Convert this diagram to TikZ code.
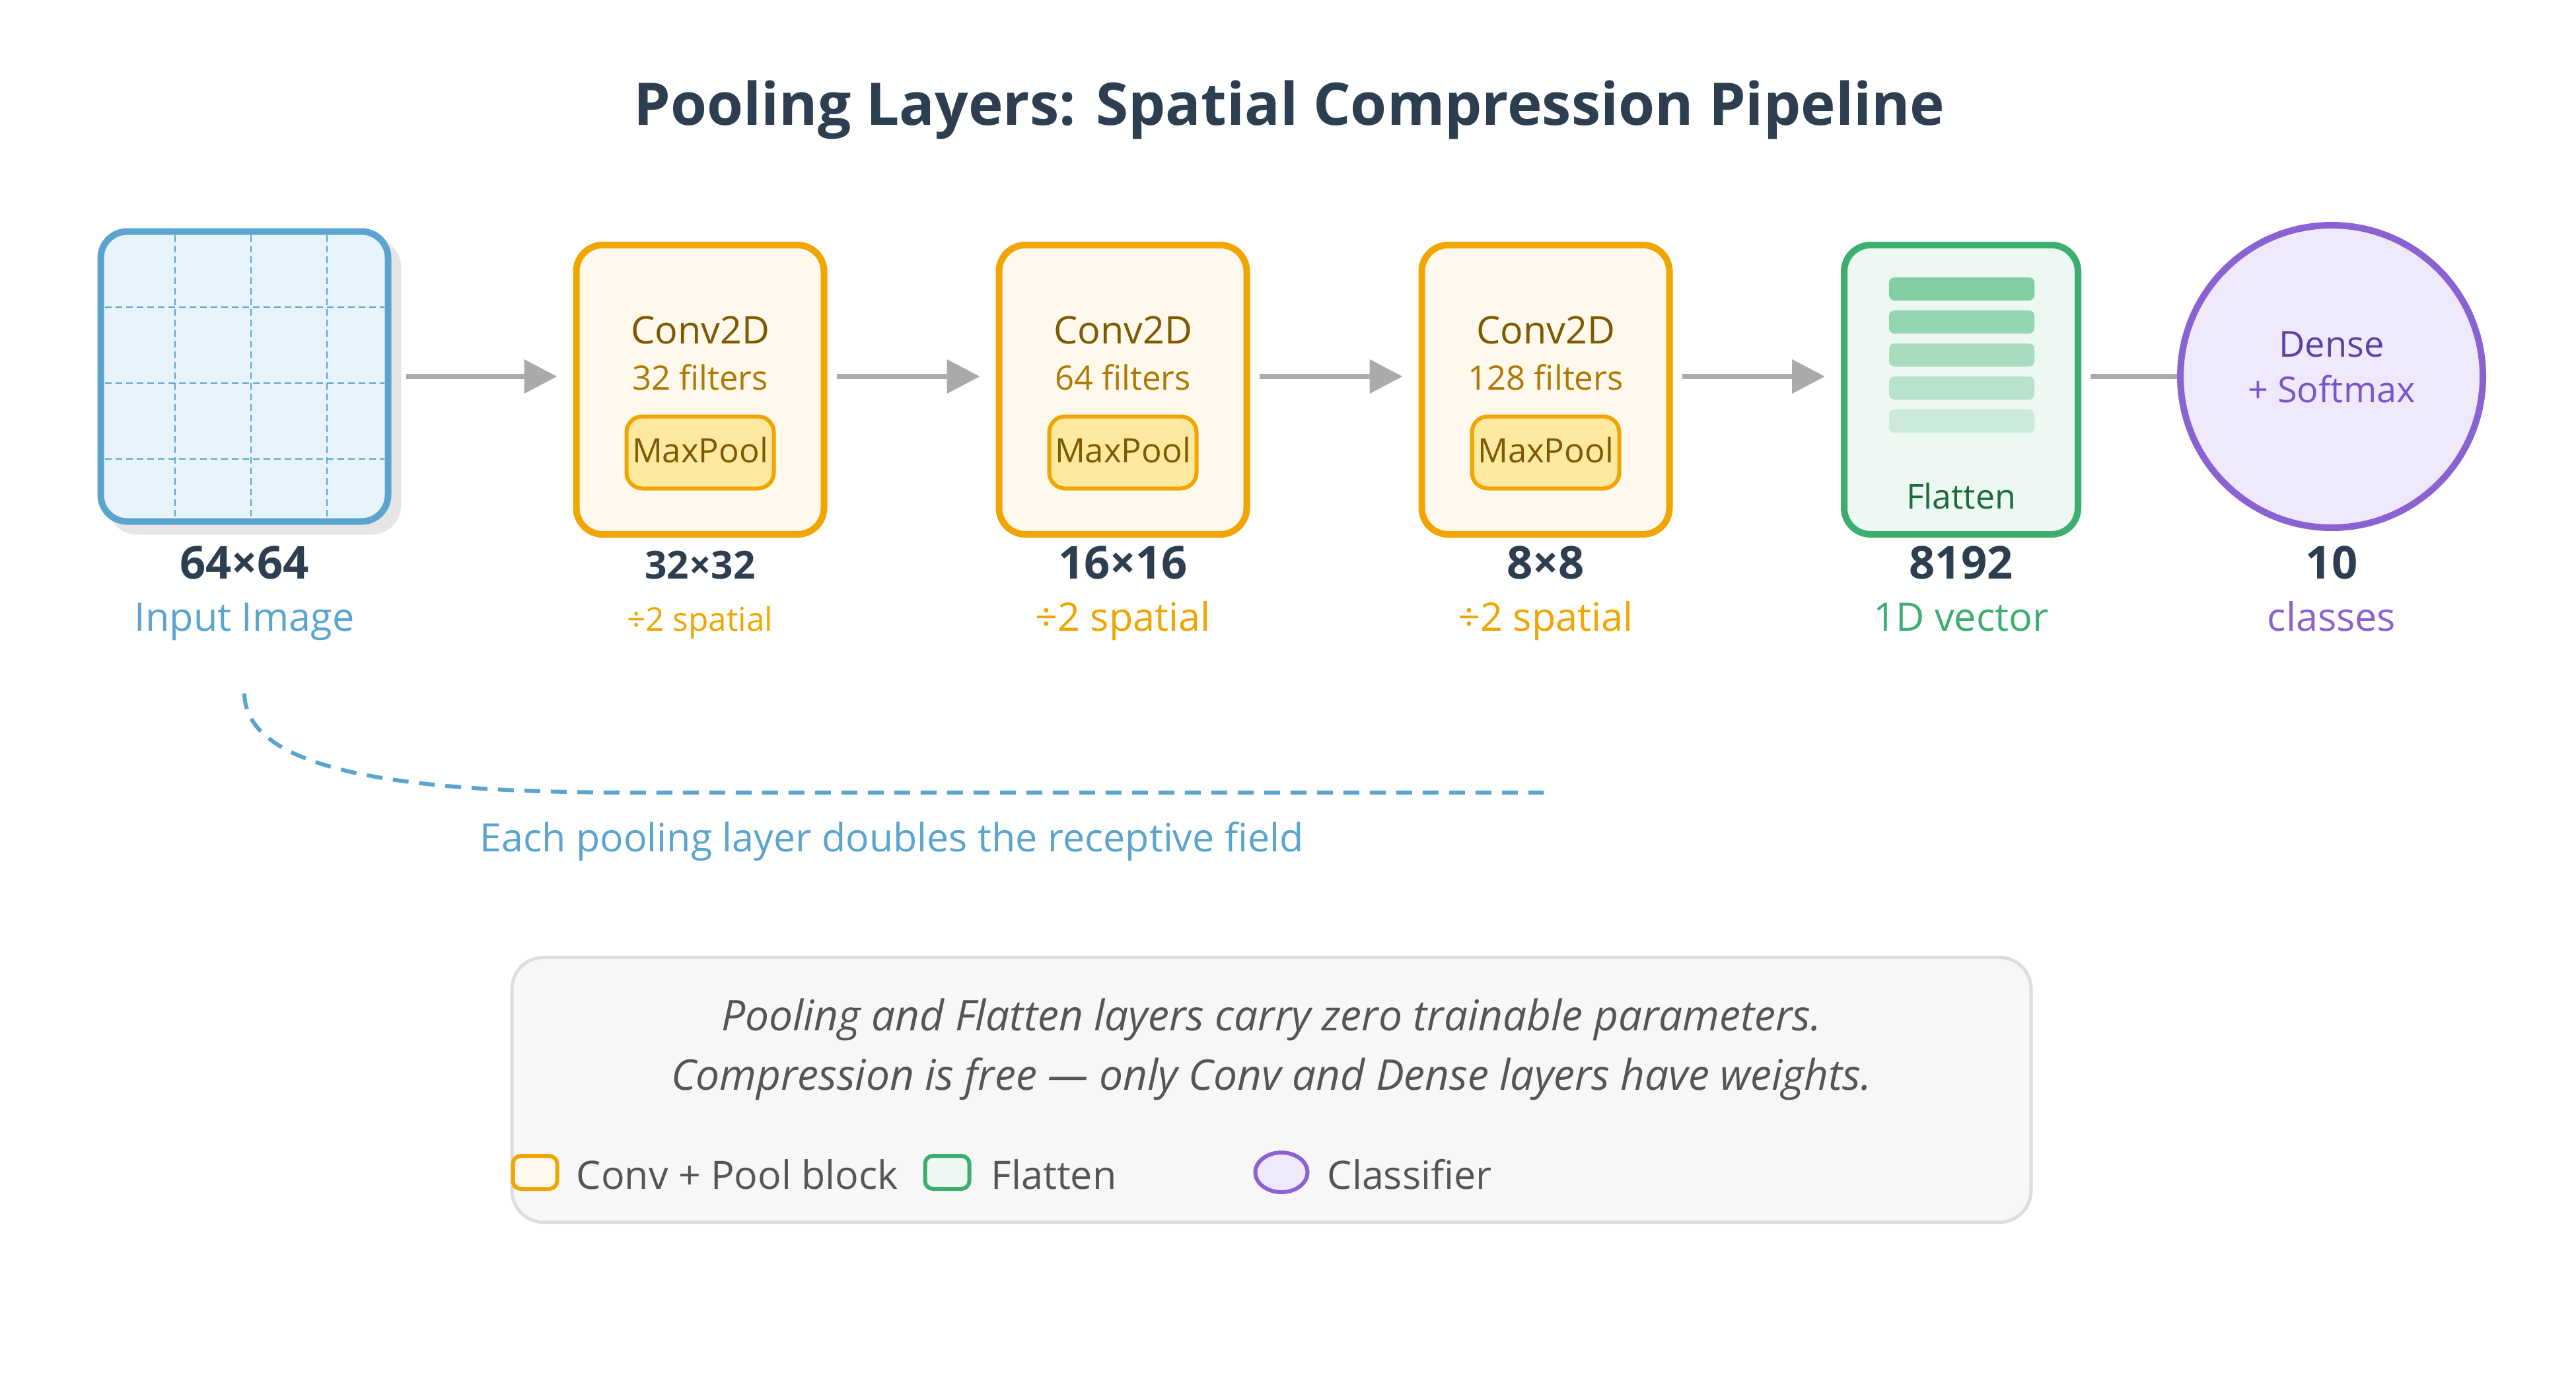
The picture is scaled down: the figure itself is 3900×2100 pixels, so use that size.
\documentclass[tikz,border=0pt]{standalone}
\usepackage{fontspec}
\setmainfont{Open Sans}
\usetikzlibrary{arrows.meta,shapes.geometric}
\definecolor{cDark}{HTML}{2C3E50}
\definecolor{cBlue}{HTML}{5BA4CF}
\definecolor{cBlueFill}{HTML}{E8F4FB}
\definecolor{cShadow}{HTML}{E6E6E6}
\definecolor{cOrange}{HTML}{F0A500}
\definecolor{cOrangeFill}{HTML}{FFF8EC}
\definecolor{cPoolFill}{HTML}{FFE9A0}
\definecolor{cConvText}{HTML}{7D5A00}
\definecolor{cFiltText}{HTML}{B07800}
\definecolor{cGreen}{HTML}{3CAE6F}
\definecolor{cGreenFill}{HTML}{ECF8F1}
\definecolor{cGreenText}{HTML}{1E6B3A}
\definecolor{cBarA}{HTML}{82CDA1}
\definecolor{cBarB}{HTML}{94D4B0}
\definecolor{cBarC}{HTML}{A7DCBE}
\definecolor{cBarD}{HTML}{B8E3CB}
\definecolor{cBarE}{HTML}{CBEAD9}
\definecolor{cPurple}{HTML}{8B62D1}
\definecolor{cPurpleFill}{HTML}{EFE9FC}
\definecolor{cPurpleDark}{HTML}{5B3FA3}
\definecolor{cPurpleMid}{HTML}{7A55C6}
\definecolor{cArrow}{HTML}{AAAAAA}
\definecolor{cNoteFill}{HTML}{F7F7F7}
\definecolor{cNoteLine}{HTML}{DDDDDD}
\definecolor{cNoteText}{HTML}{555555}
\newlength\fwlen
\newcommand\calcsize[3]{\settowidth\fwlen{\normalfont\fontsize{10pt}{12pt}\selectfont #3}\pgfmathsetmacro#1{10*#2/\fwlen}}
\newcommand\fsz[1]{\fontsize{#1pt}{#1pt}\selectfont}
\tikzset{
  bigbox/.style={rounded corners=10pt, line width=2.5pt, inner sep=0pt},
  txt/.style={inner sep=0pt, anchor=base},
  arr/.style={draw=cArrow, line width=2pt, -{Triangle[length=12.5pt,width=12.5pt]}, shorten <=3.5pt, shorten >=6pt},
  gridline/.style={draw=cBlue, line width=0.6pt, dash pattern=on 2.5pt off 1.5pt},
  poolbox/.style={draw=cOrange, fill=cPoolFill, line width=1.5pt, rounded corners=6pt, minimum width=55.75pt, minimum height=27.25pt, inner sep=0pt},
  barbox/.style={rounded corners=2pt, minimum width=55pt, minimum height=8.75pt, inner sep=0pt},
  legbox/.style={rounded corners=3pt, line width=1.5pt, minimum width=16.75pt, minimum height=12.5pt, inner sep=0pt},
}
\begin{document}
\calcsize\szTitle{496.25}{\bfseries Pooling Layers: Spatial Compression Pipeline}%
\calcsize\szConv{52.5}{Conv2D}%
\calcsize\szFilt{51.5}{64 filters}%
\calcsize\szPool{51.5}{MaxPool}%
\calcsize\szDim{49}{\bfseries 16×16}%
\calcsize\szDimS{41.75}{\bfseries 32×32}%
\calcsize\szSub{66.25}{÷2 spatial}%
\calcsize\szSubS{55.25}{÷2 spatial}%
\calcsize\szFlat{41.5}{Flatten}%
\calcsize\szDense{39.75}{Dense}%
\calcsize\szCap{311.75}{Each pooling layer doubles the receptive field}%
\calcsize\szNote{454.5}{\itshape Compression is free — only Conv and Dense layers have weights.}%
\calcsize\szLeg{121.75}{Conv + Pool block}%
\begin{tikzpicture}[x=0.25pt,y=-0.25pt]
\fill[white] (0,0) rectangle (3900,2100);
\useasboundingbox (0,0) rectangle (3900,2100);

% title
\node[txt, text=cDark] (title) at (1952,189) {\fsz\szTitle\bfseries Pooling Layers: Spatial Compression Pipeline};

% input image
\node[bigbox, draw=cShadow, fill=cShadow, minimum width=108.75pt, minimum height=109.75pt] (inshadow) at (385,585) {};
\node[bigbox, draw=cBlue, fill=cBlueFill, minimum width=108.75pt, minimum height=109.75pt] (in) at (370,570) {};
\foreach \gx in {265,380,495} {\draw[gridline] (\gx,356) -- (\gx,783);}
\foreach \gy in {465,580,695} {\draw[gridline] (159,\gy) -- (582,\gy);}
\node[txt, text=cDark] (ind) at (370,876) {\fsz\szDim\bfseries 64×64};
\node[txt, text=cBlue] (inl) at (370,955) {\fsz\szSub Input Image};

% conv blocks
\node[bigbox, draw=cOrange, fill=cOrangeFill, minimum width=93.75pt, minimum height=109.5pt] (c1) at (1060,590) {};
\node[txt, text=cConvText] (c1t) at (1060,520) {\fsz\szConv Conv2D};
\node[txt, text=cFiltText] (c1f) at (1060,590) {\fsz\szFilt 32 filters};
\node[poolbox] (c1p) at (1060,685) {};
\node[txt, text=cConvText] (c1pt) at (1060,700) {\fsz\szPool MaxPool};
\node[txt, text=cDark] (c1d) at (1060,876) {\fsz\szDimS\bfseries 32×32};
\node[txt, text=cOrange] (c1s) at (1060,955) {\fsz\szSubS ÷2 spatial};

\node[bigbox, draw=cOrange, fill=cOrangeFill, minimum width=93.75pt, minimum height=109.5pt] (c2) at (1700,590) {};
\node[txt, text=cConvText] (c2t) at (1700,520) {\fsz\szConv Conv2D};
\node[txt, text=cFiltText] (c2f) at (1700,590) {\fsz\szFilt 64 filters};
\node[poolbox] (c2p) at (1700,685) {};
\node[txt, text=cConvText] (c2pt) at (1700,700) {\fsz\szPool MaxPool};
\node[txt, text=cDark] (c2d) at (1700,876) {\fsz\szDim\bfseries 16×16};
\node[txt, text=cOrange] (c2s) at (1700,955) {\fsz\szSub ÷2 spatial};

\node[bigbox, draw=cOrange, fill=cOrangeFill, minimum width=93.75pt, minimum height=109.5pt] (c3) at (2340,590) {};
\node[txt, text=cConvText] (c3t) at (2340,520) {\fsz\szConv Conv2D};
\node[txt, text=cFiltText] (c3f) at (2340,590) {\fsz\szFilt 128 filters};
\node[poolbox] (c3p) at (2340,685) {};
\node[txt, text=cConvText] (c3pt) at (2340,700) {\fsz\szPool MaxPool};
\node[txt, text=cDark] (c3d) at (2340,876) {\fsz\szDim\bfseries 8×8};
\node[txt, text=cOrange] (c3s) at (2340,955) {\fsz\szSub ÷2 spatial};

% flatten
\node[bigbox, draw=cGreen, fill=cGreenFill, minimum width=88.5pt, minimum height=109.5pt] (flat) at (2969,590) {};
\node[barbox, fill=cBarA] (b1) at (2970,437.5) {};
\node[barbox, fill=cBarB] (b2) at (2970,487.5) {};
\node[barbox, fill=cBarC] (b3) at (2970,537.5) {};
\node[barbox, fill=cBarD] (b4) at (2970,587.5) {};
\node[barbox, fill=cBarE] (b5) at (2970,637.5) {};
\node[txt, text=cGreenText] (flatt) at (2969,770) {\fsz\szFlat Flatten};
\node[txt, text=cDark] (flatd) at (2969,876) {\fsz\szDim\bfseries 8192};
\node[txt, text=cGreen] (flatl) at (2969,955) {\fsz\szSub 1D vector};

% dense
\node[circle, draw=cPurple, fill=cPurpleFill, line width=2.5pt, minimum size=114.5pt, inner sep=0pt] (dense) at (3530,570) {};
\draw[draw=cArrow, line width=2pt, shorten <=3.5pt] (flat.east |- dense.west) -- (dense.west);
\node[txt, text=cPurpleDark] (denset) at (3530,540) {\fsz\szDense Dense};
\node[txt, text=cPurpleMid] (denses) at (3530,609) {\fsz\szDense + Softmax};
\node[txt, text=cDark] (densed) at (3530,876) {\fsz\szDim\bfseries 10};
\node[txt, text=cPurple] (densel) at (3530,955) {\fsz\szSub classes};

% arrows
\draw[arr, shorten <=5.5pt] (in.east) -- (in.east -| c1.west);
\draw[arr] (c1.east |- in.east) -- (c2.west |- in.east);
\draw[arr] (c2.east |- in.east) -- (c3.west |- in.east);
\draw[arr] (c3.east |- in.east) -- (flat.west |- in.east);

% receptive field annotation
\coordinate (rfA) at (370,1050);
\coordinate (rfB) at (2337,1200);
\draw[draw=cBlue, line width=1.5pt, dash pattern=on 6pt off 4pt] (rfA) .. controls (372,1185) and (690,1200) .. (970,1200) -- (rfB);
\node[txt, text=cBlue] (cap) at (1350,1289) {\fsz\szCap Each pooling layer doubles the receptive field};

% note box
\node[draw=cNoteLine, fill=cNoteFill, line width=1.25pt, rounded corners=12pt, minimum width=575pt, minimum height=100.25pt, inner sep=0pt] (note) at (1925,1650) {};
\node[txt, text=cNoteText] (n1) at (1925,1560) {\fsz\szNote\itshape Pooling and Flatten layers carry zero trainable parameters.};
\node[txt, text=cNoteText] (n2) at (1925,1650) {\fsz\szNote\itshape Compression is free — only Conv and Dense layers have weights.};

% legend
\node[legbox, draw=cOrange, fill=cOrangeFill] (lg1) at (810,1775) {};
\node[txt, anchor=base west, text=cNoteText] (lg1t) at (872,1800) {\fsz\szLeg Conv + Pool block};
\node[legbox, draw=cGreen, fill=cGreenFill] (lg2) at (1434,1775) {};
\node[txt, anchor=base west, text=cNoteText] (lg2t) at (1500,1800) {\fsz\szLeg Flatten};
\node[ellipse, draw=cPurple, fill=cPurpleFill, line width=1.5pt, minimum width=19.75pt, minimum height=15pt, inner sep=0pt] (lg3) at (1940,1775) {};
\node[txt, anchor=base west, text=cNoteText] (lg3t) at (2009,1800) {\fsz\szLeg Classifier};
\end{tikzpicture}
\end{document}
